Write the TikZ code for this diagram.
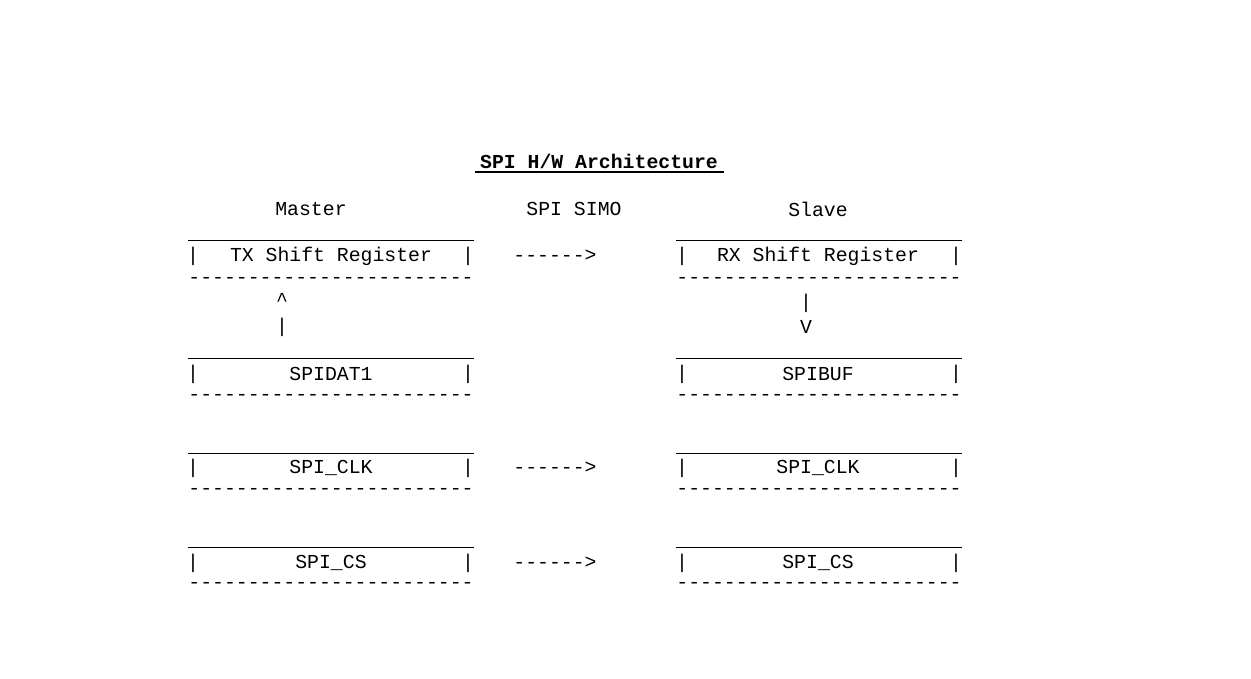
\documentclass[tikz,border=0pt]{standalone}
\usepackage{fontspec}
\setmonofont{Liberation Mono}
\begin{document}
\begin{tikzpicture}[x=1pt,y=-1pt,
  txt/.style={font=\ttfamily\fontsize{19.8}{22}\selectfont,inner sep=0pt,anchor=center},
  top/.style={line width=1pt}]
\useasboundingbox (0,0) rectangle (1251,678);
\node[txt,font=\ttfamily\bfseries\fontsize{19.8}{22}\selectfont] (title) at (599,161) {SPI H/W Architecture};
\draw[line width=2pt] (475,172) -- (724,172);
\node[txt] (master) at (311,209) {Master};
\node[txt] (simo) at (574,209) {SPI SIMO};
\node[txt] (slave) at (818,209) {Slave};
\foreach \yt/\y/\yb/\lt/\rt/\n in {240/256/280/TX Shift Register/RX Shift Register/a,358/374/397/SPIDAT1/SPIBUF/b,453/468/491/SPI\_CLK/SPI\_CLK/c,547/563/585/SPI\_CS/SPI\_CS/d}{
  \draw[top] (188,\yt) -- (474,\yt);
  \draw[top] (676,\yt) -- (962,\yt);
  \node[txt] (lb\n) at (193,\y) {|};
  \node[txt] (rb\n) at (468,\y) {|};
  \node[txt] (lt\n) at (331,\y) {\lt};
  \node[txt] (sb\n) at (682,\y) {|};
  \node[txt] (tb\n) at (956,\y) {|};
  \node[txt] (rt\n) at (818,\y) {\rt};
  \node[txt] (ld\n) at (331,\yb) {------------------------};
  \node[txt] (rd\n) at (819,\yb) {------------------------};
}
\foreach \y/\n in {256/a,468/c,563/d}{\node[txt] (arr\n) at (555,\y) {------>};}
\node[txt] (up) at (282,300) {\^{}};
\node[txt] (upbar) at (282,327) {|};
\node[txt] (dnbar) at (806,303) {|};
\node[txt] (dn) at (806,327) {V};
\end{tikzpicture}
\end{document}
